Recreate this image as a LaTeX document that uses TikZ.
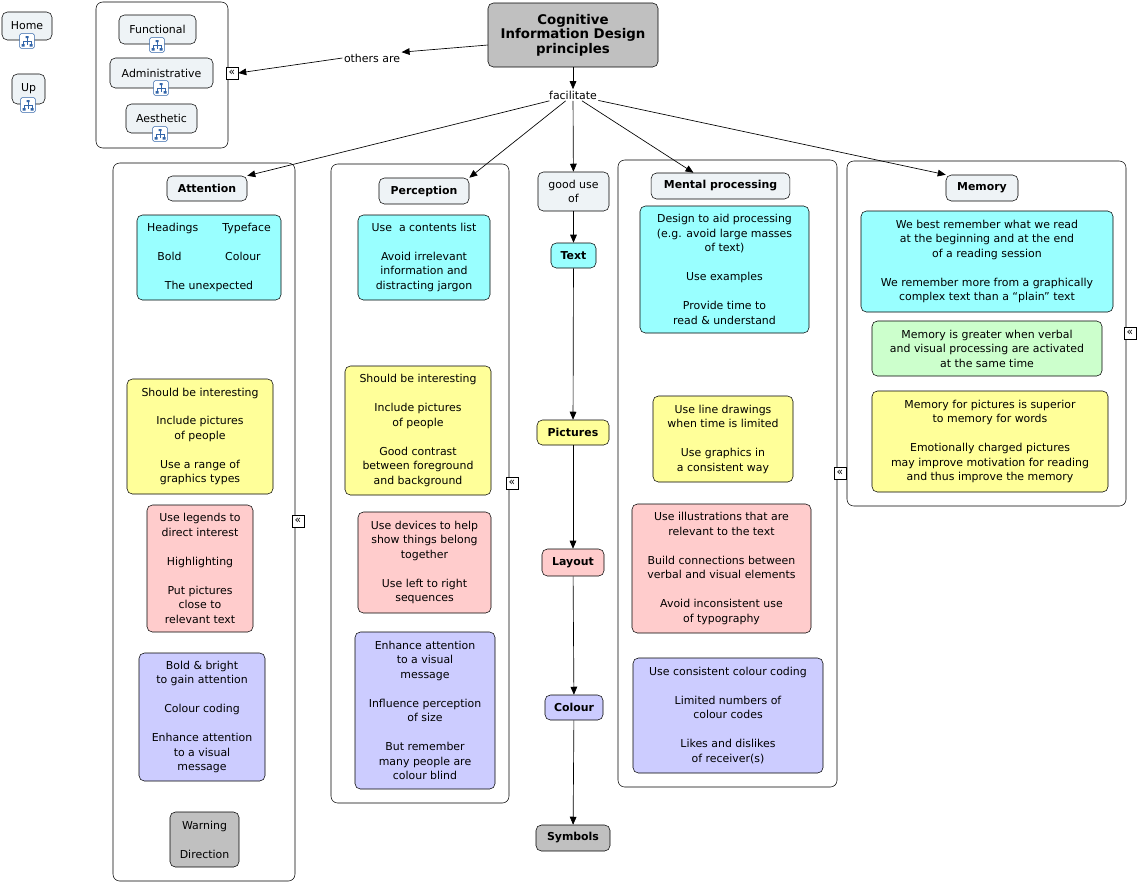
\documentclass[tikz,border=0pt]{standalone}
\usepackage{fontspec}
\setmainfont{DejaVu Sans}
\usetikzlibrary{arrows.meta}
\definecolor{nodefill}{HTML}{EEF3F6}
\definecolor{cy}{HTML}{99FFFF}
\definecolor{ye}{HTML}{FFFF99}
\definecolor{pk}{HTML}{FFCCCC}
\definecolor{lv}{HTML}{CCCCFF}
\definecolor{gn}{HTML}{CCFFCC}
\definecolor{gy}{HTML}{C0C0C0}
\definecolor{iconblue}{HTML}{3366AA}
\newcommand{\bx}[7]{\node[box,fill=#6,minimum width=#4*0.75pt,minimum height=#5*0.75pt] (#1) at ({#2+#4/2},{#3+#5/2}) {#7};}
\newcommand{\grp}[5]{\node[grp,minimum width=#4*0.75pt,minimum height=#5*0.75pt] (#1) at ({#2+#4/2},{#3+#5/2}) {};}
\newcommand{\icon}[3]{\node[icon] (#1) at (#2,#3) {};
 \draw[iconblue,line width=0.5pt] (#2-4,#3+4)--(#2-4,#3)--(#2+4,#3)--(#2+4,#3+4) (#2,#3-4)--(#2,#3+4);
 \fill[iconblue] (#2-1.5,#3-5) rectangle (#2+1.5,#3-3) (#2-5.5,#3+3) rectangle (#2-2.5,#3+5.5) (#2+2.5,#3+3) rectangle (#2+5.5,#3+5.5);}
\newcommand{\mk}[3]{\node[mrk] (#1) at (#2,#3) {\fontsize{8}{8}\selectfont«};}
\newcommand{\gap}{\\[10.8pt]}
\begin{document}
\begin{tikzpicture}[x=0.75pt,y=-0.75pt,
  box/.style={draw,rounded corners=4pt,align=center,inner sep=1pt,font=\fontsize{8.2}{10.9}\selectfont},
  bnd/.style={box,fill=nodefill,font=\fontsize{8.2}{10.9}\selectfont\bfseries},
  grp/.style={draw,rounded corners=5pt,inner sep=0pt},
  icon/.style={draw=iconblue,fill=white,rounded corners=1pt,minimum size=11pt,inner sep=0pt},
  mrk/.style={draw,fill=white,minimum size=9pt,inner sep=0pt},
  lbl/.style={font=\fontsize{8.2}{10}\selectfont,fill=white,inner sep=1pt},
  arr/.style={-{Triangle[length=6pt,width=5pt]},line width=0.5pt}]
\useasboundingbox (0,0) rectangle (1139,883);
% left nav
\bx{home}{2}{12}{50}{28}{nodefill}{Home}
\icon{ihome}{27}{41}
\bx{up}{12}{74}{33}{30}{nodefill}{Up}
\icon{iup}{28}{105}
% others group
\grp{g0}{96}{2}{132}{146}
\bx{func}{119}{15}{77}{29}{nodefill}{Functional}
\icon{ifunc}{157}{45}
\bx{admin}{110}{58}{103}{30}{nodefill}{Administrative}
\icon{iadmin}{161}{88}
\bx{aest}{126}{104}{71}{29}{nodefill}{Aesthetic}
\icon{iaest}{160}{134}
\mk{m0}{232}{73}
% title
\bx{title}{488}{3}{170}{64}{gy}{\bfseries\fontsize{10}{13}\selectfont Cognitive\\\bfseries\fontsize{10}{13}\selectfont Information Design\\\bfseries\fontsize{10}{13}\selectfont principles}
\node[lbl] (others) at (372,58) {others are};
\node[lbl] (fac) at (573,95) {facilitate};
\draw[arr] (title.west|-488,45) -- (others.north east);
\draw[arr] (others.west) -- (m0.east);
\draw[arr] (title) -- (fac);
% Attention
\grp{g1}{113}{163}{182}{718}
\node[bnd,minimum width=60pt,minimum height=18.75pt] (att) at (207,188.5) {Attention};
\bx{a1}{137}{215}{144}{85}{cy}{Headings\hspace{2.2em}Typeface\gap Bold\hspace{4em}Colour\gap The unexpected}
\bx{a2}{127}{379}{146}{115}{ye}{Should be interesting\gap Include pictures\\of people\gap Use a range of\\graphics types}
\bx{a3}{147}{505}{106}{127}{pk}{Use legends to\\direct interest\gap Highlighting\gap Put pictures\\close to\\relevant text}
\bx{a4}{139}{653}{126}{128}{lv}{Bold \& bright\\to gain attention\gap Colour coding\gap Enhance attention\\to a visual\\message}
\bx{a5}{170}{812}{69}{55}{gy}{Warning\gap Direction}
\mk{m1}{298}{521}
% Perception
\grp{g2}{331}{164}{178}{639}
\node[bnd,minimum width=67.5pt,minimum height=19.5pt] (per) at (424,191) {Perception};
\bx{p1}{358}{215}{132}{85}{cy}{Use\ \ a contents list\gap Avoid irrelevant\\information and\\distracting jargon}
\bx{p2}{345}{366}{146}{129}{ye}{Should be interesting\gap Include pictures\\of people\gap Good contrast\\between foreground\\and background}
\bx{p3}{358}{512}{133}{101}{pk}{Use devices to help\\show things belong\\together\gap Use left to right\\sequences}
\bx{p4}{355}{632}{140}{157}{lv}{Enhance attention\\to a visual\\message\gap Influence perception\\of size\gap But remember\\many people are\\colour blind}
\mk{m2}{512}{483}
% middle
\bx{good}{538}{172}{71}{39}{nodefill}{good use\\of}
\bx{text}{551}{243}{45}{25}{cy}{\bfseries Text}
\bx{pic}{537}{420}{72}{25}{ye}{\bfseries Pictures}
\bx{lay}{542}{549}{62}{27}{pk}{\bfseries Layout}
\bx{col}{545}{695}{58}{25}{lv}{\bfseries Colour}
\bx{sym}{536}{825}{74}{26}{gy}{\bfseries Symbols}
\draw[arr] (good) -- (text);
\draw[arr] (text) -- (pic);
\draw[arr] (pic) -- (lay);
\draw[arr] (lay) -- (col);
\draw[arr] (col) -- (sym);
% Mental processing
\grp{g3}{618}{160}{219}{627}
\node[bnd,minimum width=104pt,minimum height=19.5pt] (men) at (720.5,186) {Mental processing};
\bx{mp1}{640}{206}{169}{127}{cy}{Design to aid processing\\(e.g. avoid large masses\\of text)\gap Use examples\gap Provide time to\\read \& understand}
\bx{mp2}{653}{396}{140}{86}{ye}{Use line drawings\\when time is limited\gap Use graphics in\\a consistent way}
\bx{mp3}{632}{504}{179}{129}{pk}{Use illustrations that are\\relevant to the text\gap Build connections between\\verbal and visual elements\gap Avoid inconsistent use\\of typography}
\bx{mp4}{633}{658}{190}{115}{lv}{Use consistent colour coding\gap Limited numbers of\\colour codes\gap Likes and dislikes\\of receiver(s)}
\mk{m3}{840}{473}
% Memory
\grp{g4}{847}{161}{279}{345}
\node[bnd,minimum width=54pt,minimum height=19.5pt] (mem) at (982,188) {Memory};
\bx{me1}{861}{211}{252}{101}{cy}{We best remember what we read\\at the beginning and at the end\\of a reading session\gap We remember more from a graphically\\complex text than a “plain” text}
\bx{me2}{872}{321}{230}{55}{gn}{Memory is greater when verbal\\and visual processing are activated\\at the same time}
\bx{me3}{872}{391}{236}{101}{ye}{Memory for pictures is superior\\to memory for words\gap Emotionally charged pictures\\may improve motivation for reading\\and thus improve the memory}
\mk{m4}{1130}{333}
% facilitate arrows
\draw[arr] (fac) -- (att.north east);
\draw[arr] (fac) -- (per.north east);
\draw[arr] (fac) -- (good);
\draw[arr] (fac) -- ([xshift=-27*0.75pt]men.north);
\draw[arr] (fac) -- (mem.north west);
\end{tikzpicture}
\end{document}
